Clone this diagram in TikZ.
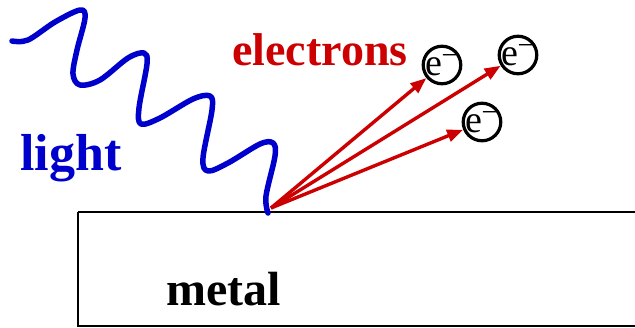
\documentclass[tikz,border=0pt]{standalone}
\usepackage{fontspec}
\setmainfont{Liberation Serif}
\usetikzlibrary{arrows.meta,positioning}
\definecolor{wavec}{HTML}{0000CC}
\definecolor{elecc}{HTML}{CC0000}
\tikzset{
  ar/.style={-{Triangle[length=16pt,width=12pt]},line width=3.4pt,elecc},
  elec/.style={draw,circle,line width=3.2pt,minimum size=36pt,inner sep=0pt,
    font=\fontsize{38}{38}\selectfont},
  lbl/.style={anchor=base west,inner sep=0pt}
}
\newcommand{\eminus}{\kern-1pt e\kern-1pt\raisebox{0.3em}{\fontsize{28}{28}\selectfont −}}

\begin{document}
\begin{tikzpicture}[x=1pt,y=-1pt]
\useasboundingbox (0,0) rectangle (635,327);
% metal block
\draw[line width=2pt] (78,212) -- (640,212) (78,212) -- (78,326) -- (640,326);
\node[lbl,font=\fontsize{48}{48}\selectfont\bfseries] (metal) at (166,305) {metal};
% light wave
\draw[wavec,line width=5.5pt,line cap=round,line join=round] plot[smooth,tension=0.55]
  coordinates {(12,41) (28,40) (55,22) (80,10) (85,18) (77,50) (73,74) (80,85)
  (100,80) (128,58) (144,53) (147,64) (139,108) (141,124) (160,118) (193,99)
  (210,96) (212,110) (203,158) (208,171) (228,163) (260,144) (273,143) (275,156)
  (266,196) (268,213)};
\node[lbl,wavec,font=\fontsize{52}{52}\selectfont\bfseries] (light) at (20,170) {light};
% electrons
\node[lbl,elecc,font=\fontsize{46}{46}\selectfont\bfseries] (etxt) at (232,65) {electrons};
\node[elec] (e1) at (442,65) {\eminus};
\node[elec] (e2) at (518,55) {\eminus};
\node[elec] (e3) at (482,122) {\eminus};
\coordinate (hit) at (271,208);
\draw[ar] (hit) -- (e1);
\draw[ar] (hit) -- (e2);
\draw[ar] (hit) -- (e3);
\end{tikzpicture}
\end{document}
